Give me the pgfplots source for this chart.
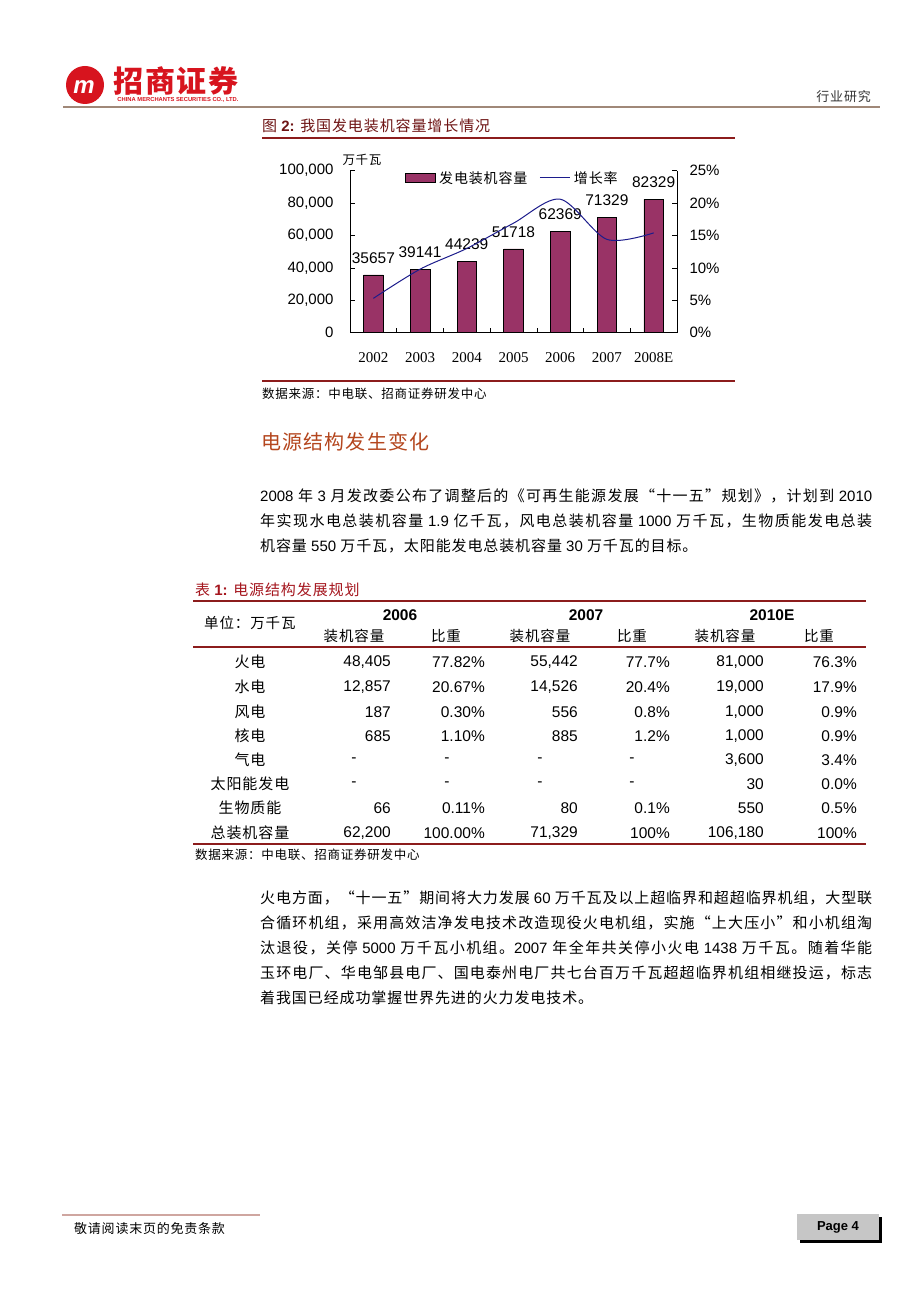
\documentclass[border=0pt]{standalone}
\usepackage{fontspec}
\usepackage{pgfplots}
\pgfplotsset{compat=1.18}
\setmainfont{Liberation Sans}
\newfontfamily\cjk{Noto Sans CJK SC}
\newfontfamily\latin{Liberation Sans}
\newfontfamily\serif{Liberation Serif}
\XeTeXinterchartokenstate=1
\newXeTeXintercharclass\CJKcls
\newcount\ccnt
\def\setcls#1#2{\ccnt=#1\relax\loop\XeTeXcharclass\ccnt=\CJKcls\advance\ccnt by 1\relax\ifnum\ccnt<#2\repeat}
\setcls{"4E00}{"A000}
\setcls{"3000}{"3040}
\setcls{"FF00}{"FFF0}
\XeTeXcharclass"201C=\CJKcls
\XeTeXcharclass"201D=\CJKcls
\XeTeXinterchartoks 0 \CJKcls = {\cjk}
\XeTeXinterchartoks 4095 \CJKcls = {\cjk}
\XeTeXinterchartoks \CJKcls 0 = {\latin}
\XeTeXinterchartoks \CJKcls 4095 = {\latin}
\XeTeXinterchartoks \CJKcls \CJKcls = {\hskip 0.06em plus 2pt\relax}
\newcommand\fs[1]{\fontsize{#1}{#1}\selectfont}
\definecolor{barcol}{HTML}{993366}
\definecolor{linecol}{HTML}{1C1C8C}
\definecolor{rulecol}{HTML}{8C1C1C}
\definecolor{titlecol}{HTML}{6E1414}
\definecolor{headcol}{HTML}{B4461E}
\definecolor{tabtitle}{HTML}{A5161E}
\definecolor{logored}{HTML}{D7141E}
\definecolor{hdrline}{HTML}{A08878}
\definecolor{footline}{HTML}{CFA6A0}
\newcommand\jline[2]{\node[anchor=west,inner sep=0pt] at (260,#1) {\hbox to 612pt{\fs{15}#2}};}
\newcommand\nline[2]{\node[anchor=west,inner sep=0pt] at (260,#1) {\fs{15}#2};}
\newcommand\trow[8]{%
 \node[inner sep=0pt] at (250,#1) {\fs{15}#2};
 \node[anchor=east,inner sep=0pt] at (391,#1) {\fs{15.5}#3};
 \node[anchor=east,inner sep=0pt] at (485,#1) {\fs{15.5}#4};
 \node[anchor=east,inner sep=0pt] at (578,#1) {\fs{15.5}#5};
 \node[anchor=east,inner sep=0pt] at (670,#1) {\fs{15.5}#6};
 \node[anchor=east,inner sep=0pt] at (764,#1) {\fs{15.5}#7};
 \node[anchor=east,inner sep=0pt] at (857,#1) {\fs{15.5}#8};}
\begin{document}
\begin{tikzpicture}[x=1pt,y=1pt]
\fill[white] (0,0) rectangle (920,1302);
% ---------- header ----------
\fill[logored] (85,1217) circle (19);
\node[white,font=\bfseries\itshape\fs{24},inner sep=0pt] at (84,1215) {m};
\node[logored,font=\bfseries\fs{30},inner sep=0pt] at (176,1221) {招商证券};
\node[logored,font=\bfseries\fs{5.8},inner sep=0pt] at (178,1202) {CHINA MERCHANTS SECURITIES CO., LTD.};
\draw[hdrline,line width=1.2pt] (63,1195) -- (880,1195);
\node[anchor=east,inner sep=0pt,text=black!80] at (871,1205) {\fs{13}行业研究};
% ---------- figure title ----------
\node[anchor=west,inner sep=0pt,text=titlecol] at (262,1176) {\fs{15}图 {\bfseries 2:} 我国发电装机容量增长情况};
\draw[rulecol,line width=2.5pt] (262,1164) -- (735,1164);
% ---------- chart ----------
\begin{axis}[
 at={(350pt,969.3pt)}, anchor=south west, scale only axis,
 width=327pt, height=162pt,
 xmin=-0.5, xmax=6.5, ymin=0, ymax=100000,
 axis x line*=bottom, axis y line*=left,
 axis line style={-, line width=0.6pt},
 tick align=inside, major tick length=5pt, minor tick length=5pt,
 xtick={0,...,6}, xticklabels={2002,2003,2004,2005,2006,2007,2008E},
 major x tick style={draw=none},
 minor xtick={0.5,1.5,2.5,3.5,4.5,5.5},
 minor x tick style={black, line width=0.6pt},
 xticklabel style={font=\serif\fs{15}, yshift=-16pt},
 ytick={0,20000,40000,60000,80000,100000},
 yticklabels={0,{20,000},{40,000},{60,000},{80,000},{100,000}},
 yticklabel style={font=\fs{15}, xshift=-13pt},
 y tick style={black, line width=0.6pt},
 scaled y ticks=false,
 /pgf/number format/1000 sep={},
 /pgf/number format/assume math mode=true,
 nodes near coords,
 nodes near coords style={font=\fs{15.5}, yshift=8pt},
 clip=false,
]
\addplot[ybar, bar width=19.5pt, fill=barcol, draw=black, line width=0.6pt]
 coordinates {(0,35657) (1,39141) (2,44239) (3,51718) (4,62369) (5,71329) (6,82329)};
\end{axis}
\begin{axis}[
 at={(350pt,969.3pt)}, anchor=south west, scale only axis,
 width=327pt, height=162pt,
 xmin=-0.5, xmax=6.5, ymin=0, ymax=25,
 axis y line*=right, axis x line=none, xtick=\empty,
 axis line style={-, line width=0.6pt},
 tick align=inside, major tick length=5pt,
 ytick={0,5,10,15,20,25},
 yticklabels={0\%,5\%,10\%,15\%,20\%,25\%},
 yticklabel style={font=\fs{15}, xshift=9pt},
 y tick style={black, line width=0.6pt},
 legend style={at={(0.168,0.955)}, anchor=west, draw=none, fill=none,
   font=\fs{14}, legend columns=2, inner sep=0pt,
   /tikz/every odd column/.append style={column sep=1.5pt},
   /tikz/every even column/.append style={column sep=10pt}},
 legend cell align=left,
 clip=false,
]
\addlegendimage{legend image code/.code={\draw[fill=barcol,draw=black,line width=0.6pt] (0pt,-4.8pt) rectangle (30pt,4.8pt);}}
\addlegendentry{发电装机容量}
\addplot[smooth, color=linecol, line width=1pt,
  legend image code/.code={\draw[linecol,line width=1pt] (0pt,0pt) -- (30pt,0pt);}]
 coordinates {(0,5.3) (1,9.8) (2,13.0) (3,16.9) (4,20.6) (5,14.4) (6,15.4)};
\addlegendentry{增长率}
\end{axis}
\node[inner sep=0pt] at (362,1142) {\fs{12.5}万千瓦};
\draw[rulecol,line width=2pt] (262,921) -- (735,921);
\node[anchor=west,inner sep=0pt] at (262,908) {\fs{12.5}数据来源：中电联、招商证券研发中心};
% ---------- heading ----------
\node[anchor=west,inner sep=0pt,text=headcol] at (261,860) {\fs{20}电源结构发生变化};
% ---------- paragraph 1 ----------
\jline{806}{2008 年 3 月发改委公布了调整后的《可再生能源发展“十一五”规划》，计划到 2010}
\jline{781}{年实现水电总装机容量 1.9 亿千瓦，风电总装机容量 1000 万千瓦，生物质能发电总装}
\nline{756}{机容量 550 万千瓦，太阳能发电总装机容量 30 万千瓦的目标。}
% ---------- table ----------
\node[anchor=west,inner sep=0pt,text=tabtitle] at (195,712) {\fs{15}表 {\bfseries 1:} 电源结构发展规划};
\draw[rulecol,line width=2.5pt] (193,701) -- (866,701);
\node[anchor=west,inner sep=0pt] at (204,679) {\fs{14.5}单位：万千瓦};
\node[font=\bfseries\fs{15.5},inner sep=0pt] at (400,687) {2006};
\node[font=\bfseries\fs{15.5},inner sep=0pt] at (586,687) {2007};
\node[font=\bfseries\fs{15.5},inner sep=0pt] at (772,687) {2010E};
\foreach \xx in {354,540,725} {\node[inner sep=0pt] at (\xx,666) {\fs{14.5}装机容量};}
\foreach \xx in {446,632,819} {\node[inner sep=0pt] at (\xx,666) {\fs{14.5}比重};}
\draw[rulecol,line width=1.2pt] (193,655) -- (866,655);
\trow{640}{火电}{48,405}{77.82\%}{55,442}{77.7\%}{81,000}{76.3\%}
\trow{615}{水电}{12,857}{20.67\%}{14,526}{20.4\%}{19,000}{17.9\%}
\trow{590}{风电}{187}{0.30\%}{556}{0.8\%}{1,000}{0.9\%}
\trow{566}{核电}{685}{1.10\%}{885}{1.2\%}{1,000}{0.9\%}
\trow{542}{气电}{}{}{}{}{3,600}{3.4\%}
\trow{518}{太阳能发电}{}{}{}{}{30}{0.0\%}
\foreach \yy in {542,518} {\foreach \xx in {354,447,540,632} {\node[inner sep=0pt] at (\xx,\yy) {\fs{15.5}-};}}
\trow{494}{生物质能}{66}{0.11\%}{80}{0.1\%}{550}{0.5\%}
\trow{469}{总装机容量}{62,200}{100.00\%}{71,329}{100\%}{106,180}{100\%}
\draw[rulecol,line width=2pt] (193,458) -- (866,458);
\node[anchor=west,inner sep=0pt] at (195,447) {\fs{12.5}数据来源：中电联、招商证券研发中心};
% ---------- paragraph 2 ----------
\jline{404}{火电方面，“十一五”期间将大力发展 60 万千瓦及以上超临界和超超临界机组，大型联}
\jline{379}{合循环机组，采用高效洁净发电技术改造现役火电机组，实施“上大压小”和小机组淘}
\jline{354}{汰退役，关停 5000 万千瓦小机组。2007 年全年共关停小火电 1438 万千瓦。随着华能}
\jline{329}{玉环电厂、华电邹县电厂、国电泰州电厂共七台百万千瓦超超临界机组相继投运，标志}
\nline{304}{着我国已经成功掌握世界先进的火力发电技术。}
% ---------- footer ----------
\draw[footline,line width=1.5pt] (62,87) -- (260,87);
\node[anchor=west,inner sep=0pt] at (74,73) {\fs{13}敬请阅读末页的免责条款};
\fill[black] (800,59) rectangle (882,85);
\fill[gray!45] (797,62) rectangle (879,88);
\node[font=\bfseries\fs{13},inner sep=0pt] at (838,75) {Page 4};
\end{tikzpicture}
\end{document}
